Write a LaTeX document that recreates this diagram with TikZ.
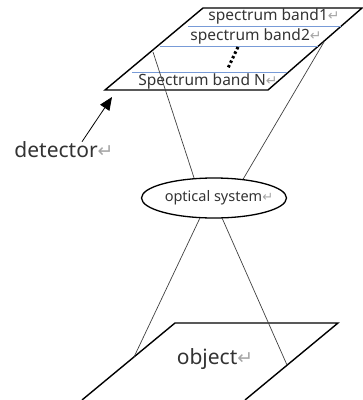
\documentclass[tikz,border=0pt]{standalone}
\usepackage{fontspec}
\setmainfont{Noto Sans}
\newfontfamily\markfont{DejaVu Sans}
\usepackage{graphicx}
\usetikzlibrary{arrows.meta, positioning, shapes.geometric, calc}
\definecolor{bandblue}{RGB}{120,155,215}
\newcommand{\pmark}{{\markfont\color{gray!70}\scalebox{0.9}{↵}}}

\begin{document}
\begin{tikzpicture}[
  x=1pt, y=-1pt,
  plane/.style={draw, line width=1.4pt},
  ray/.style={draw=black!75, line width=0.7pt},
  band/.style={draw=bandblue, line width=0.9pt},
  lbl/.style={font=\fontsize{15.5}{17}\selectfont, text=black!80, inner sep=0pt},
  big/.style={font=\fontsize{21}{24}\selectfont, text=black!80, inner sep=0pt},
  pointer/.style={-{Triangle[length=13pt,width=11pt]}, line width=0.8pt}
]
  \useasboundingbox (0,0) rectangle (363,400);

  % detector plane
  \coordinate (dA) at (203,8);
  \coordinate (dB) at (362,8);
  \coordinate (dC) at (268,90);
  \coordinate (dD) at (105,90);
  \draw[plane] (dA) -- (dB) -- (dC) -- (dD) -- cycle;

  \draw[band] (188,26) -- (341,26);
  \draw[band] (160,46) -- (318,46);
  \draw[band] (132,72) -- (287,72);
  \node[lbl] (band1) at (274,16) {spectrum band1\pmark};
  \node[lbl] (band2) at (256,36) {spectrum band2\pmark};
  \node[lbl] (bandN) at (208,81) {Spectrum band N\pmark};
  \draw[line width=3pt, dash pattern=on 2.5pt off 2.5pt] (238,47) -- (228,68);

  % optics
  \node[draw, ellipse, line width=1.3pt, minimum width=145pt,
    minimum height=40pt, inner sep=0pt] (optics) at (214,198) {};
  \node[lbl, font=\fontsize{14.5}{16}\selectfont] (opticsText) at (219,198) {optical system\pmark};

  \coordinate (rayL) at (153,52);
  \coordinate (rayR) at (324,42);
  \draw[ray] (rayL) -- (optics.135);
  \draw[ray] (rayR) -- (optics.33);

  % object plane
  \coordinate (oA) at (175,323);
  \coordinate (oB) at (338,323);
  \draw[plane] (82,400) -- (oA) -- (oB) -- (245,400);
  \node[big] (object) at (215,359) {object\pmark};

  \coordinate (hitL) at (134,357);
  \coordinate (hitR) at (287,365);
  \draw[ray] (optics.235) -- (hitL);
  \draw[ray] (optics.292) -- (hitR);

  % label
  \node[big] (detlabel) at (64,150) {detector\pmark};
  \coordinate (detTip) at (112,97);
  \draw[pointer] ([xshift=18pt]detlabel.north) -- (detTip);
\end{tikzpicture}
\end{document}
